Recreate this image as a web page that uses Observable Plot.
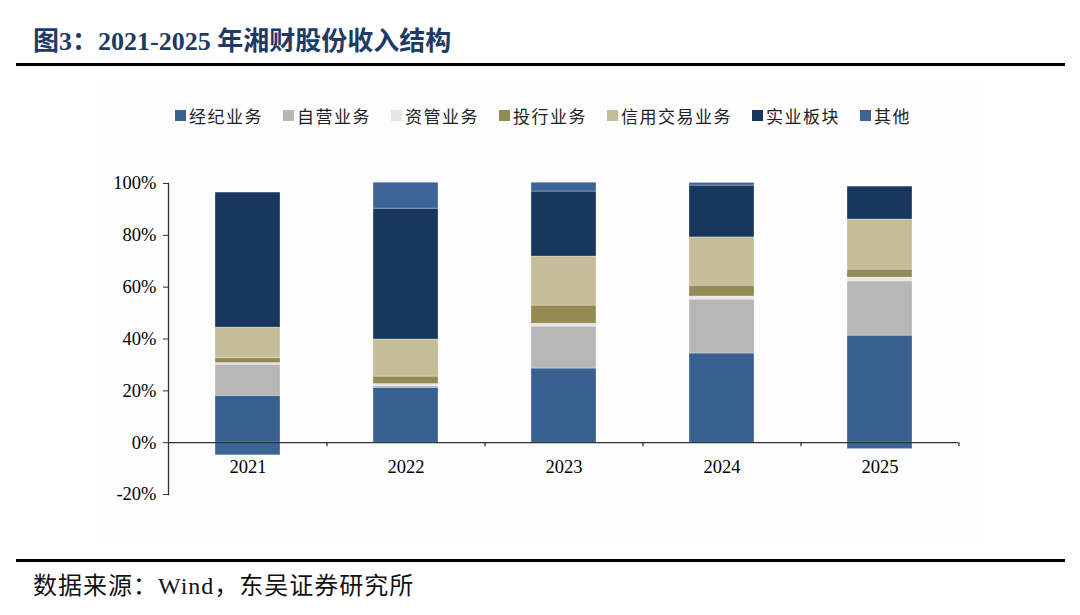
<!DOCTYPE html>
<html>
<head>
<meta charset="utf-8">
<script src="https://cdn.jsdelivr.net/npm/d3@7"></script>
<script src="https://cdn.jsdelivr.net/npm/@observablehq/plot@0.6"></script>
<style>
  html, body { margin: 0; padding: 0; background: #fff; }
  #page { position: relative; width: 1080px; height: 615px; overflow: hidden; background: #fff; }
  #title { position: absolute; left: 33px; top: 20px; font-family: "Liberation Serif", "Noto Sans CJK SC", serif; font-weight: bold; font-size: 26px; color: #1f3a64; white-space: nowrap; }
  .hr { position: absolute; left: 16px; width: 1049px; height: 3px; background: #000; }
  #panel { position: absolute; left: 97px; top: 80px; width: 886px; height: 463px; background: #fdfdfd; }
  #legend { position: absolute; left: 175px; top: 103px; display: flex; gap: 20px; font-family: "Noto Sans CJK SC", sans-serif; font-size: 17px; letter-spacing: 1.5px; color: #222; }
  #legend .item { display: flex; align-items: center; gap: 3px; white-space: nowrap; }
  #legend .sw { width: 11px; height: 11px; display: inline-block; }
  #chart { position: absolute; left: 0; top: 170px; }
  #footer { position: absolute; left: 33px; top: 566px; font-family: "Liberation Serif", "Noto Sans CJK SC", serif; font-size: 24px; letter-spacing: 1px; color: #111; white-space: nowrap; }
</style>
</head>
<body>
<div id="page">
  <div id="title">图3：2021-2025 年湘财股份收入结构</div>
  <div class="hr" style="top:63px"></div>
  <div id="panel"></div>
  <div id="legend"></div>
  <div id="chart"></div>
  <div class="hr" style="top:559px"></div>
  <div id="footer">数据来源：Wind，东吴证券研究所</div>
</div>
<script>
// ---- data ----
const years = ["2021", "2022", "2023", "2024", "2025"];
const seriesNames = ["经纪业务", "自营业务", "资管业务", "投行业务", "信用交易业务", "实业板块", "其他"];
const brokerage   = [18.1, 21.2, 28.6, 34.4, 41.3];
const proprietary = [12.0, 0.6, 16.2, 20.8, 20.9];
const assetMgmt   = [0.6, 0.8, 1.1, 1.2, 1.5];
const ibanking    = [2.0, 2.9, 7.0, 4.2, 3.1];
const credit      = [11.7, 14.3, 18.9, 18.6, 19.3];
const industrial  = [52.1, 50.5, 25.1, 20.0, 12.7];
const others      = [-4.9, 10.0, 3.4, 1.0, -2.5];
const colors = ["#386091", "#b7b7b7", "#e6e6e6", "#948a54", "#c4bd97", "#17375e", "#3b6596"];
const yTicks = [-20, 0, 20, 40, 60, 80, 100];

const seriesValues = [brokerage, proprietary, assetMgmt, ibanking, credit, industrial, others];
const rows = [];
seriesNames.forEach((s, si) => {
  years.forEach((y, yi) => rows.push({year: y, series: s, value: seriesValues[si][yi]}));
});

// ---- legend ----
const legend = document.getElementById("legend");
seriesNames.forEach((s, i) => {
  const it = document.createElement("div");
  it.className = "item";
  it.innerHTML = `<span class="sw" style="background:${colors[i]}"></span><span>${s}</span>`;
  legend.appendChild(it);
});

// ---- chart ----
const W = 1080, H = 340, mL = 168, mR = 122;
const step = (W - mL - mR) / years.length;
const serif = "Liberation Serif, Times New Roman, serif";

const chart = Plot.plot({
  width: W,
  height: H,
  marginLeft: mL,
  marginRight: mR,
  marginTop: 13,
  marginBottom: 16,
  style: {background: "transparent", fontFamily: serif, fontSize: "18px", color: "#000"},
  x: {domain: years, paddingInner: 0.59, paddingOuter: 0.295, axis: null},
  y: {domain: [-20, 100], ticks: yTicks, tickFormat: d => d + "%", label: null, axis: null},
  color: {domain: seriesNames, range: colors},
  marks: [
    Plot.barY(rows, Plot.stackY({
      x: "year", y: "value", fill: "series", order: seriesNames,
      stroke: "#ffffff", strokeWidth: 0.6, strokeOpacity: 0.5
    })),
    Plot.ruleY([0], {stroke: "#333", strokeWidth: 1.3}),
    Plot.ruleX(years, {x: d => d, y1: 0, y2: -1.6, dx: step / 2, stroke: "#333", strokeWidth: 1.3}),
    Plot.text(years, {x: d => d, y: 0, dy: 24, text: d => d, fontSize: 18.5, fontFamily: serif, fill: "#000"}),
    Plot.axisY({ticks: yTicks, tickFormat: d => d + "%", label: null, tickSize: 5, tickPadding: 7, fontSize: 18.5, fontFamily: serif, stroke: "#333", fill: "#000"}),
    Plot.frame({anchor: "left", stroke: "#333", strokeWidth: 1.3})
  ]
});
document.getElementById("chart").appendChild(chart);
</script>
</body>
</html>
